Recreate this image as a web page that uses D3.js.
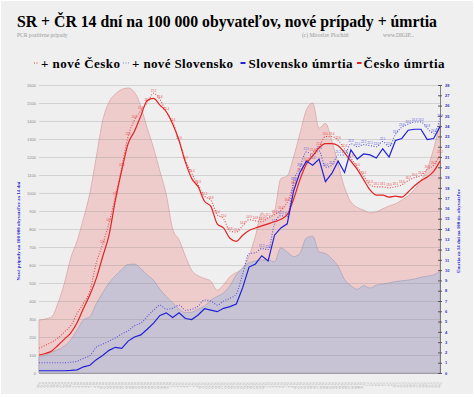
<!doctype html>
<html>
<head>
<meta charset="utf-8">
<title>SR + ČR 14 dní na 100 000 obyvateľov</title>
<script src="https://cdn.jsdelivr.net/npm/d3@7"></script>
<style>
  body { margin: 0; background: #fff; }
  svg { display: block; font-family: "Liberation Serif", "DejaVu Serif", serif; }
</style>
</head>
<body>
<svg id="chart" width="474" height="398"></svg>
<script>
// kategorie na osi x (dni)
const days = d3.timeDay.range(new Date(2020, 8, 20), new Date(2021, 0, 25));
const dayLabels = days.map(d3.timeFormat("%-d.%-m."));
const leftTicks = d3.range(0, 1601, 100);
const rightTicks = d3.range(0, 29, 1);

// hodnoty su na kazdy druhy den
const czCases = [294, 300, 312, 390, 500, 640, 735, 860, 1000, 1200, 1400, 1505, 1550, 1575, 1583, 1560,
  1480, 1360, 1250, 1120, 990, 800, 740, 650, 570, 540, 525, 510, 460, 490, 535, 558,
  580, 650, 760, 890, 860, 900, 1080, 1095, 1200, 1330, 1460, 1500, 1360, 1387, 1290, 1160,
  1030, 950, 920, 905, 890, 895, 912, 928, 940, 960, 985, 1020, 1070, 1135, 1245, 1390];
const skCases = [90, 100, 115, 130, 150, 185, 240, 295, 313, 385, 445, 500, 540, 575, 603, 605,
  580, 545, 515, 465, 425, 390, 355, 335, 338, 355, 372, 405, 425, 445, 485, 545,
  585, 612, 622, 628, 628, 618, 695, 672, 646, 665, 750, 760, 672, 664, 635, 592,
  520, 485, 465, 485, 472, 488, 494, 500, 508, 512, 516, 522, 532, 538, 545, 563];
const czNew = [2.4, 2.7, 3.0, 3.4, 4.0, 4.6, 5.8, 6.8, 8.0, 10.7, 12.5, 14.6, 17.2, 20.0, 23.0, 24.6,
  25.5, 26.3, 27.2, 26.6, 25.4, 24.4, 22.6, 20.7, 19.4, 18.3, 17.2, 16.8, 15.4, 15.0, 13.8, 13.7,
  14.3, 14.9, 14.8, 14.7, 15.1, 15.4, 15.8, 16.6, 18.2, 19.5, 20.5, 21.4, 22.0, 23.0, 23.0, 22.6,
  21.8, 20.9, 20.0, 19.2, 18.3, 18.1, 18.1, 18.0, 18.1, 18.3, 18.7, 19.0, 19.2, 19.8, 20.2, 21.2];
const skNew = [1.0, 1.0, 1.0, 1.0, 1.0, 1.05, 1.15, 1.43, 1.7, 2.5, 2.8, 3.1, 3.4, 3.8, 4.1, 4.6,
  4.85, 5.5, 6.1, 6.6, 6.2, 6.3, 6.6, 6.1, 6.2, 6.5, 7.1, 7.0, 6.6, 7.0, 7.26, 7.7,
  9.6, 11.6, 11.7, 12.1, 12.0, 14.5, 15.3, 15.2, 18.6, 20.0, 21.5, 21.2, 21.6, 20.0, 20.2, 21.2,
  21.2, 22.3, 22.0, 22.2, 22.1, 22.0, 22.5, 22.0, 23.2, 23.9, 24.2, 24.4, 24.4, 23.8, 23.3, 24.75];
const skDeaths = [0.22, 0.22, 0.22, 0.22, 0.22, 0.25, 0.3, 0.6, 0.75, 1.3, 1.7, 2.2, 2.5, 2.4, 3.1, 3.5,
  3.7, 4.25, 4.85, 5.6, 5.85, 5.4, 5.86, 5.3, 5.2, 5.64, 6.25, 6.12, 5.96, 6.29, 6.45, 6.7,
  8.3, 10.3, 10.6, 11.4, 10.9, 13.4, 14.1, 14.5, 17.7, 19.5, 20.6, 20.2, 20.8, 18.6, 19.4, 20.6,
  19.5, 21.7, 20.8, 21.3, 21.2, 20.9, 21.8, 21.0, 22.6, 22.8, 23.6, 23.7, 23.7, 22.7, 22.8, 23.95];
const czDeaths = [1.75, 1.9, 2.15, 2.7, 3.3, 3.9, 4.9, 6.3, 7.6, 9.2, 11.3, 13.4, 16.8, 19.7, 22.3, 23.5,
  25.0, 26.5, 26.7, 26.05, 25.4, 24.2, 22.6, 20.5, 18.9, 18.1, 16.7, 16.2, 14.5, 14.1, 13.1, 12.8,
  13.4, 13.85, 14.1, 14.3, 14.5, 14.7, 14.95, 15.4, 16.9, 18.8, 20.3, 21.1, 21.9, 22.3, 22.3, 22.1,
  21.4, 20.6, 19.8, 18.8, 17.8, 17.3, 17.3, 17.1, 17.2, 17.1, 17.6, 18.2, 18.7, 19.05, 19.6, 20.6];

const svg = d3.select("#chart");
const width = +svg.attr("width"), height = +svg.attr("height");
const margin = {top: 85, right: 34, bottom: 25, left: 39};
const plotW = width - margin.left - margin.right,
    plotH = height - margin.top - margin.bottom;

const x = d3.scalePoint().domain(dayLabels).range([margin.left, margin.left + plotW]);
const yL = d3.scaleLinear().domain([0, 1600]).range([margin.top + plotH, margin.top]);
const yR = d3.scaleLinear().domain([0, 28]).range([margin.top + plotH, margin.top]);
const px = (d, i) => x(dayLabels[i * 2]);

// pozadie
svg.append("rect").attr("width", width).attr("height", height).attr("fill", "#fff");
svg.append("rect").attr("x", 1).attr("y", 1).attr("width", width - 2).attr("height", height - 5)
    .attr("fill", "#efefef");

// nadpis
svg.append("text").attr("x", 17).attr("y", 27)
    .attr("textLength", 420).attr("lengthAdjust", "spacingAndGlyphs")
    .style("font-size", "17px").style("font-weight", "bold")
    .text("SR + ČR 14 dní na 100 000 obyvateľov,  nové prípady + úmrtia");
svg.append("text").attr("x", 17).attr("y", 36.5).attr("fill", "#999").style("font-size", "5.5px")
    .text("PCR pozitívne prípady");
svg.append("text").attr("x", 302).attr("y", 36.5).attr("fill", "#999").style("font-size", "5.5px")
    .text("(c) Miroslav Plocháň");
svg.append("text").attr("x", 383).attr("y", 36.5).attr("fill", "#999").style("font-size", "5.5px")
    .text("www.DIGIP...");

// legenda
let lg = svg.append("g").style("font-size", "13px").style("font-weight", "bold");
lg.append("line").attr("x1", 34).attr("x2", 39).attr("y1", 63).attr("y2", 63)
    .attr("stroke", "#e03030").attr("stroke-width", 1).attr("stroke-dasharray", "1 1.5");
lg.append("text").attr("x", 41).attr("y", 68).attr("textLength", 79).text("+ nové Česko");
lg.append("line").attr("x1", 123).attr("x2", 129).attr("y1", 63).attr("y2", 63)
    .attr("stroke", "#8080c0").attr("stroke-width", 1).attr("stroke-dasharray", "1 1.5");
lg.append("text").attr("x", 132).attr("y", 68).attr("textLength", 101).text("+ nové Slovensko");
lg.append("line").attr("x1", 240.5).attr("x2", 245.5).attr("y1", 63).attr("y2", 63)
    .attr("stroke", "#2222dd").attr("stroke-width", 2);
lg.append("text").attr("x", 248.5).attr("y", 68).attr("textLength", 104).text("Slovensko úmrtia");
lg.append("line").attr("x1", 357).attr("x2", 361.5).attr("y1", 63).attr("y2", 63)
    .attr("stroke", "#e02020").attr("stroke-width", 2);
lg.append("text").attr("x", 363.5).attr("y", 68).attr("textLength", 81).text("Česko úmrtia");

// plochy - nove pripady (lava os)
const area = d3.area().x(px).y0(yL(0)).y1(d => yL(d)).curve(d3.curveMonotoneX);
svg.append("path").datum(czCases).attr("d", area)
    .attr("fill", "#eecccc").attr("stroke", "#dba6a6").attr("stroke-width", 0.8);
svg.append("path").datum(skCases).attr("d", area)
    .attr("fill", "#c8c3d4").attr("stroke", "#aaa5bb").attr("stroke-width", 0.8);

// lava os + mriezka
let gL = svg.append("g").attr("transform", "translate(" + margin.left + ",0)")
    .call(d3.axisLeft(yL).tickValues(leftTicks).tickFormat(d3.format("d"))
        .tickSize(-plotW).tickPadding(3));
gL.select(".domain").remove();
gL.selectAll(".tick line").attr("stroke", "#888").attr("stroke-opacity", 0.35).attr("stroke-width", 0.8);
gL.selectAll(".tick text").attr("fill", "#888").style("font-size", "4px")
    .style("font-family", "Liberation Sans, sans-serif");

// spodna os
let gB = svg.append("g").attr("transform", "translate(0," + yL(0) + ")")
    .call(d3.axisBottom(x).tickSize(0).tickPadding(3));
gB.select(".domain").attr("stroke", "#999").attr("stroke-width", 0.8);
gB.selectAll(".tick text").attr("fill", "#9a9a9a").style("font-size", "3px")
    .style("font-family", "Liberation Sans, sans-serif")
    .attr("text-anchor", "end").attr("dy", 0).attr("y", 0)
    .attr("transform", "translate(1.8,9) rotate(-62)");

// prava os
let gR = svg.append("g").attr("transform", "translate(" + (margin.left + plotW) + ",0)")
    .call(d3.axisRight(yR).tickValues(rightTicks).tickSizeInner(2).tickSizeOuter(0).tickPadding(3));
gR.select(".domain").attr("stroke", "#666").attr("stroke-width", 0.8);
gR.selectAll(".tick line").attr("stroke", "#555").attr("x1", -2);
gR.selectAll(".tick text").attr("fill", "#3030c8").style("font-size", "4px")
    .style("font-weight", "bold").style("font-family", "Liberation Sans, sans-serif");

// popisy osi
svg.append("text").attr("transform", "translate(20," + (margin.top + plotH / 2 + 2) + ") rotate(-90)")
    .attr("text-anchor", "middle").attr("fill", "#2a2ad0")
    .style("font-size", "5px").style("font-weight", "bold")
    .text("Nové prípady na 100 000 obyvateľov za 14 dní");
svg.append("text").attr("transform", "translate(460," + (margin.top + plotH / 2 + 2) + ") rotate(-90)")
    .attr("text-anchor", "middle").attr("fill", "#2a2ad0")
    .style("font-size", "5px").style("font-weight", "bold")
    .text("Úmrtia za 14 dní na 100 tis. obyvateľov");

// ciary (prava os)
const line = d3.line().x(px).y(d => yR(d)).curve(d3.curveMonotoneX);

// popisky bodov, ked sa zrazia s inou seriou, idu pod ciaru
function dotted(data, color, minLabel, other) {
    svg.append("path").datum(data).attr("d", line).attr("fill", "none")
        .attr("stroke", color).attr("stroke-width", 1.1)
        .attr("stroke-dasharray", "1 1.6");
    let pts = data.map((v, i) => ({v: v, i: i})).filter(p => p.v >= minLabel);
    svg.append("g").selectAll("text").data(pts).enter()
        .append("text")
        .attr("x", p => px(p.v, p.i))
        .attr("y", p => {
            let clash = other && Math.abs(yR(other[p.i]) - yR(p.v)) < 3.5;
            return clash ? yR(p.v) + 3.6 : yR(p.v) - 1.5;
        })
        .attr("text-anchor", "middle").attr("fill", color)
        .style("font-size", "2.8px").style("font-family", "Liberation Sans, sans-serif")
        .text(p => d3.format(".1f")(p.v));
}

dotted(czNew, "#e84848", 12, null);
dotted(skNew, "#5555dd", 12, czNew);

svg.append("path").datum(czDeaths).attr("d", line).attr("fill", "none")
    .attr("stroke", "#e42222").attr("stroke-width", 1.2);
svg.append("path").datum(skDeaths).attr("d", line.curve(d3.curveLinear)).attr("fill", "none")
    .attr("stroke", "#2020d8").attr("stroke-width", 1.2);
</script>
</body>
</html>
